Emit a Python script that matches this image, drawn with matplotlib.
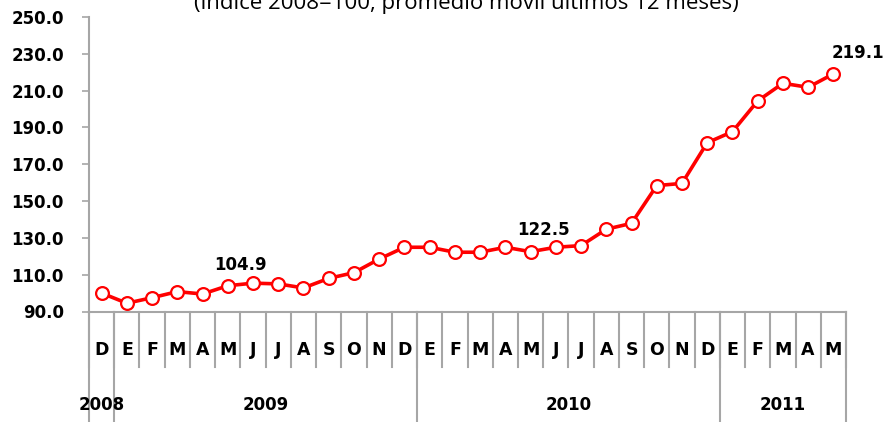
import matplotlib
matplotlib.use("Agg")
import matplotlib.pyplot as plt
import matplotlib.transforms as mtransforms

# monthly index, Dec 2008 .. May 2011
months = ['D', 'E', 'F', 'M', 'A', 'M', 'J', 'J', 'A', 'S', 'O', 'N',
          'D', 'E', 'F', 'M', 'A', 'M', 'J', 'J', 'A', 'S', 'O', 'N',
          'D', 'E', 'F', 'M', 'A', 'M']
values = [100.0, 94.5, 97.5, 100.8, 99.5, 104.0, 105.4, 105.0, 102.8, 108.0, 111.1, 118.5,
          124.9, 124.9, 122.2, 122.2, 124.9, 122.5, 124.9, 125.8, 134.7, 137.9, 158.4, 159.6,
          181.7, 187.7, 204.4, 214.0, 211.8, 219.1]
years = ['2008', '2009', '2010', '2011']
year_months = [1, 12, 12, 5]
# labelled points: (index, text)
point_labels = [(5, '104.9'), (17, '122.5'), (29, '219.1')]
label_offsets = [(13, 21), (13, 22), (25, 21)]
yticks = [90.0, 110.0, 130.0, 150.0, 170.0, 190.0, 210.0, 230.0, 250.0]

W, H = 888, 422
fig = plt.figure(figsize=(W / 100, H / 100), dpi=100)
ax = fig.add_axes([89 / W, 1 - 311.5 / H, (846 - 89) / W, (311.5 - 17) / H])

x = list(range(len(values)))
ax.plot(x, values, color='#ff0000', lw=2.6, marker='o', ms=9.2,
        mfc='white', mec='#ff0000', mew=1.6, zorder=3, clip_on=False)

for (i, txt), (dx, dy) in zip(point_labels, label_offsets):
    ax.annotate(txt, (i, values[i]), xytext=(dx, dy), textcoords='offset pixels',
                ha='center', va='center', fontsize=12, fontweight='bold')

ax.set_xlim(-0.5, len(values) - 0.5)
ax.set_ylim(90, 250)
ax.set_yticks(yticks)
ax.set_yticklabels(['%.1f' % v for v in yticks], fontsize=12, fontweight='bold')
ax.tick_params(axis='y', length=5, width=1.2, color='#a6a6a6', pad=13)
ax.set_xticks([])

for s in ['top', 'right']:
    ax.spines[s].set_visible(False)
for s in ['left', 'bottom']:
    ax.spines[s].set_color('#a6a6a6')
    ax.spines[s].set_linewidth(1.5)

trans = mtransforms.blended_transform_factory(ax.transData, ax.transAxes)
ax_h = 311.5 - 17
month_bottom = -(367 - 311.5) / ax_h
year_bottom = -(422 - 311.5) / ax_h

# month separators and labels
for k in range(len(values) + 1):
    ax.plot([k - 0.5, k - 0.5], [0, month_bottom], color='#a6a6a6', lw=1.5,
            transform=trans, clip_on=False)
for i, m in enumerate(months):
    ax.text(i, -(350 - 311.5) / ax_h, m, transform=trans, ha='center', va='center',
            fontsize=12.5, fontweight='bold')

# year separators and labels
start = 0
for y, n in zip(years, year_months):
    ax.plot([start - 0.5, start - 0.5], [0, year_bottom], color='#a6a6a6', lw=1.5,
            transform=trans, clip_on=False)
    ax.text(start - 0.5 + n / 2, -(405 - 311.5) / ax_h, y, transform=trans,
            ha='center', va='center', fontsize=12, fontweight='bold')
    start += n
ax.plot([start - 0.5, start - 0.5], [0, year_bottom], color='#a6a6a6', lw=1.5,
        transform=trans, clip_on=False)

# subtitle, its upper part sits above the picture edge as in the original
fig.text(466 / W, 1 - 9 / H, '(índice 2008=100, promedio móvil últimos 12 meses)',
         ha='center', va='baseline', fontsize=16, family='Open Sans')

fig.savefig('out.png', dpi=100)
